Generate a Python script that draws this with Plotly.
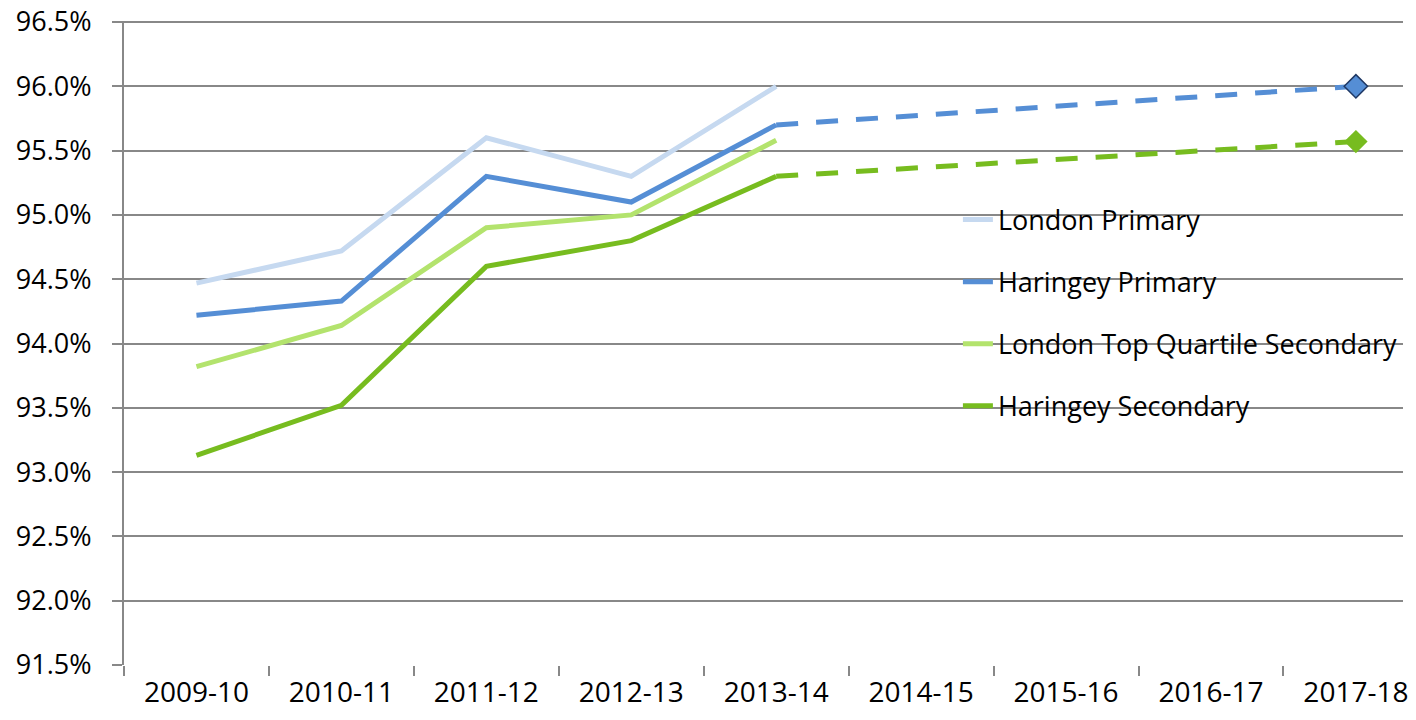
import plotly.graph_objects as go

years = ["2009-10", "2010-11", "2011-12", "2012-13", "2013-14",
         "2014-15", "2015-16", "2016-17", "2017-18"]
actual_years = ["2009-10", "2010-11", "2011-12", "2012-13", "2013-14"]

london_primary = [94.47, 94.72, 95.60, 95.30, 96.00]
haringey_primary = [94.22, 94.33, 95.30, 95.10, 95.70]
london_tq_secondary = [93.82, 94.14, 94.90, 95.00, 95.58]
haringey_secondary = [93.13, 93.52, 94.60, 94.80, 95.30]

target_years = ["2013-14", "2017-18"]
haringey_primary_target = [95.70, 96.00]
haringey_secondary_target = [95.30, 95.57]

y_ticks = [91.5, 92.0, 92.5, 93.0, 93.5, 94.0, 94.5, 95.0, 95.5, 96.0, 96.5]
y_tick_labels = ["91.5%", "92.0%", "92.5%", "93.0%", "93.5%", "94.0%",
                 "94.5%", "95.0%", "95.5%", "96.0%", "96.5%"]

C_LP = "#C6D9F0"
C_HP = "#558ED5"
C_LQ = "#B3E36D"
C_HS = "#77BC1F"
GRID = "#888888"
FONT = "Open Sans"

fig = go.Figure()

series = [
    ("London Primary", london_primary, C_LP),
    ("Haringey Primary", haringey_primary, C_HP),
    ("London Top Quartile Secondary", london_tq_secondary, C_LQ),
    ("Haringey Secondary", haringey_secondary, C_HS),
]
for i, (name, vals, col) in enumerate(series):
    fig.add_trace(go.Scatter(
        x=actual_years, y=vals, name=name, mode="lines",
        line=dict(color=col, width=5),
        legendgroup=f"g{i}",
    ))

fig.add_trace(go.Scatter(
    x=target_years, y=haringey_primary_target, mode="lines+markers",
    showlegend=False,
    line=dict(color=C_HP, width=5, dash="22px,18px"),
    marker=dict(symbol="diamond", size=[0, 18], color=C_HP, opacity=1,
                line=dict(color="#1F3864", width=[0, 1.5])),
))
fig.add_trace(go.Scatter(
    x=target_years, y=haringey_secondary_target, mode="lines+markers",
    showlegend=False,
    line=dict(color=C_HS, width=5, dash="22px,18px"),
    marker=dict(symbol="diamond", size=[0, 18], color=C_HS, opacity=1,
                line=dict(width=0)),
))

fig.update_layout(
    width=1400, height=704,
    margin=dict(l=116, r=0, t=13, b=47),
    paper_bgcolor="white", plot_bgcolor="white",
    font=dict(family=FONT, color="black"),
    legend=dict(
        x=0.652, y=0.729, xanchor="left", yanchor="top",
        font=dict(size=27, family=FONT, color="black"),
        tracegroupgap=24, bgcolor="rgba(0,0,0,0)",
    ),
    xaxis=dict(
        type="category", categoryorder="array", categoryarray=years,
        range=[-0.5, 8.325], showgrid=False, tickson="boundaries",
        ticks="outside", ticklen=10, tickcolor=GRID, tickwidth=2,
        showline=False, zeroline=False, ticklabelstandoff=8,
        tickfont=dict(size=28, family=FONT, color="black"),
    ),
    yaxis=dict(
        range=[91.5, 96.508], tickvals=y_ticks, ticktext=y_tick_labels,
        showgrid=True, gridcolor=GRID, gridwidth=2,
        ticks="outside", ticklen=10, tickcolor=GRID, tickwidth=2,
        showline=True, linecolor=GRID, linewidth=2, zeroline=False,
        ticklabelstandoff=15, ticklabeloverflow="allow", automargin=False,
        tickfont=dict(size=27, family=FONT, color="black"),
    ),
)

fig.write_html("out.html")
